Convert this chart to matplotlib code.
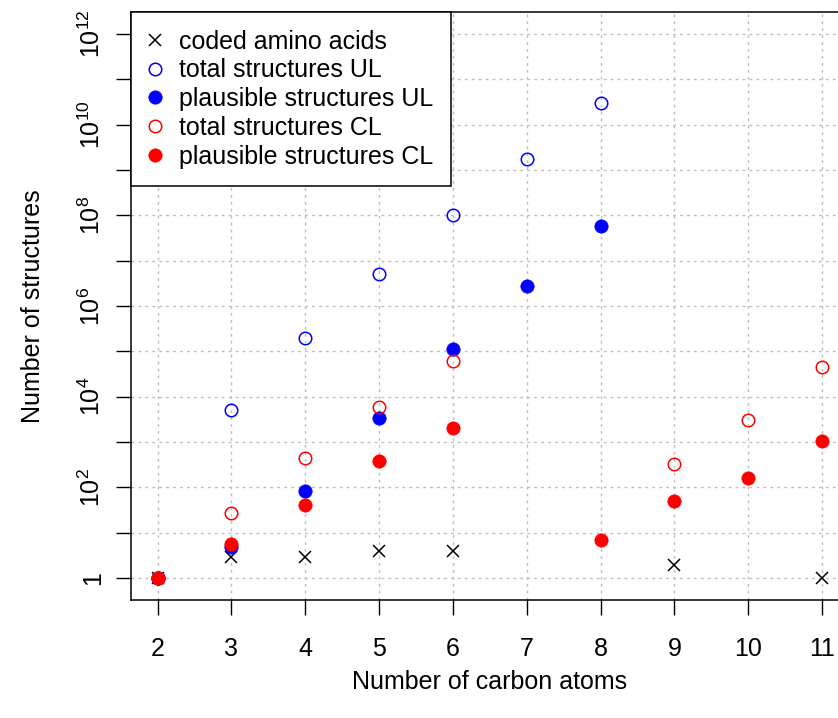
import numpy as np
import matplotlib
matplotlib.use('Agg')
import matplotlib.pyplot as plt
from matplotlib.ticker import FixedLocator, FixedFormatter

plt.rcParams['font.family'] = ['Liberation Sans', 'DejaVu Sans']
plt.rcParams['mathtext.fontset'] = 'custom'
plt.rcParams['mathtext.rm'] = 'Liberation Sans'
plt.rcParams['mathtext.it'] = 'Liberation Sans'

nan = np.nan

# number of carbon atoms
carbons = [2, 3, 4, 5, 6, 7, 8, 9, 10, 11]

# values
coded_aa = [1, 3, 3, 4, 4, nan, nan, 2, nan, 1]
total_ul = [1, 5.0e3, 1.95e5, 5.0e6, 1.0e8, 1.74e9, 2.97e10, nan, nan, nan]
plaus_ul = [1, 4.9, 84, 3430, 1.12e5, 2.75e6, 5.8e7, nan, nan, nan]
total_cl = [1, 28, 450, 5800, 6.1e4, nan, nan, 330, 3000, 4.6e4]
plaus_cl = [1, 5.8, 41, 380, 2050, nan, 6.9, 51, 158, 1050]

ytick_pos = [10.0**k for k in range(0, 13, 2)]
ytick_lab = ['1'] + [r'$10^{%d}$' % k for k in range(2, 13, 2)]

FS = 18

W, H = 838, 718
fig = plt.figure(figsize=(W / 100, H / 100), dpi=100)

# axes box in pixels (the right edge runs past the figure like the original)
left, right, top, bottom = 131, 848.6, 12, 600
ax = fig.add_axes([left / W, 1 - bottom / H, (right - left) / W, (bottom - top) / H])

ax.set_xlim(1.64, 11.36)
ax.set_yscale('log')
ax.set_ylim(10 ** -0.48, 10 ** 12.48)

# grid: dotted gray at every carbon count and every decade
for c in carbons:
    ax.axvline(c, color='#bdbdbd', lw=1, ls=(0, (2, 3)), zorder=0)
for k in range(0, 13):
    ax.axhline(10.0 ** k, color='#bdbdbd', lw=1, ls=(0, (2, 3)), zorder=0)

ax.plot(carbons, coded_aa, ls='none', marker='x', ms=9, mew=1.1, color='black',
        label='coded amino acids', zorder=3)
ax.plot(carbons, total_ul, ls='none', marker='o', ms=9, mew=1.1, mfc='none', mec='blue',
        label='total structures UL', zorder=3)
ax.plot(carbons, plaus_ul, ls='none', marker='o', ms=9.6, mew=0.5, color='blue',
        label='plausible structures UL', zorder=3)
ax.plot(carbons, total_cl, ls='none', marker='o', ms=9, mew=1.1, mfc='none', mec='red',
        label='total structures CL', zorder=3)
ax.plot(carbons, plaus_cl, ls='none', marker='o', ms=9.6, mew=0.5, color='red',
        label='plausible structures CL', zorder=3)

ax.xaxis.set_major_locator(FixedLocator(carbons))
ax.set_xticklabels([str(c) for c in carbons])
ax.yaxis.set_major_locator(FixedLocator(ytick_pos))
ax.yaxis.set_major_formatter(FixedFormatter(ytick_lab))
ax.yaxis.set_minor_locator(FixedLocator([10.0**k for k in range(1, 13, 2)]))
ax.yaxis.set_minor_formatter(FixedFormatter([]))

ax.tick_params(axis='both', which='both', direction='out', length=10.5, width=1,
               labelsize=FS, color='black')
ax.tick_params(axis='x', pad=16)
ax.tick_params(axis='y', pad=8)
for lab in ax.get_yticklabels():
    lab.set_rotation(90)
    lab.set_va('center')

for s in ax.spines.values():
    s.set_linewidth(1.1)
    s.set_color('black')

fig.text(490 / W, 1 - 682 / H, 'Number of carbon atoms', ha='center', va='center', fontsize=FS)
fig.text(33 / W, 1 - 306 / H, 'Number of structures', ha='center', va='center',
         rotation=90, fontsize=FS)

leg = ax.legend(loc='upper left', bbox_to_anchor=(0, 1), borderaxespad=0,
                fontsize=FS, fancybox=False, framealpha=1, edgecolor='black',
                handlelength=0.52, handletextpad=0.7, labelspacing=0.19,
                borderpad=0.7, numpoints=1)
leg.get_frame().set_linewidth(1.1)

fig.savefig('out.png', dpi=100)
